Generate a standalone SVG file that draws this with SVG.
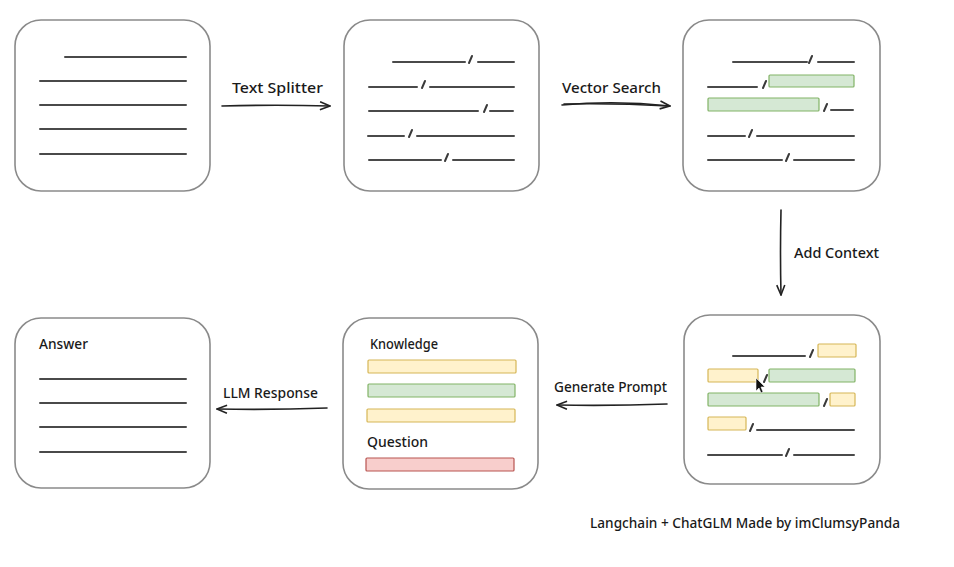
<svg xmlns="http://www.w3.org/2000/svg" width="954" height="567" viewBox="0 0 954 567">
<style>
.box{fill:#fff;stroke:#8a8a8a;stroke-width:1.6}
.ln{stroke:#4a4a4a;stroke-width:2;stroke-linecap:round;fill:none}
.sl{stroke:#3a3a3a;stroke-width:2;stroke-linecap:round;fill:none}
.g{fill:#d5e8d4;stroke:#82b366;stroke-width:1.2}
.y{fill:#fff2cc;stroke:#d6b656;stroke-width:1.2}
.r{fill:#f8cecc;stroke:#b85450;stroke-width:1.2}
.t{font-family:"Noto Sans","DejaVu Sans",sans-serif;font-size:14.5px;font-weight:500;fill:#1a1a1a}
.c{stroke:#222;stroke-width:1.6;fill:none;stroke-linecap:round}
</style>
<defs>
<marker id="ah" viewBox="0 0 12 10" refX="11" refY="5" markerWidth="12" markerHeight="10" markerUnits="userSpaceOnUse" orient="auto">
<path d="M1,1 L11,5 L1,9" fill="none" stroke="#222" stroke-width="1.6" stroke-linejoin="round"/>
</marker>
</defs>
<rect width="954" height="567" fill="#fff"/>

<g id="doc">
<rect class="box" x="15" y="20" width="195" height="171" rx="26"/>
<path class="ln" d="M65,57H186M40,81H186M40,105H186M40,129H186M40,154H186"/>
</g>

<g id="chunks">
<rect class="box" x="344" y="20" width="195" height="171" rx="26"/>
<path class="ln" d="M393,62H465M478,62H514M369,87H417M430,87H514M369,111H478M490,111H513M368,136H404M417,136H514M369,160H441M453,160H514"/>
<path class="sl" d="M469,63L472,56M422,88L425,81M484,112L487,105M409,137L412,130M445,161L448,154"/>
</g>

<g id="search">
<rect class="box" x="683" y="20" width="197" height="171" rx="26"/>
<path class="ln" d="M733,62H807M818,62H854M708,87H757M831,110H853M708,136H745M757,136H854M708,160H782M794,160H854"/>
<path class="sl" d="M809,63L812,56M763,88L766,81M824,111L827,104M749,137L752,130M786,161L789,154"/>
<rect class="g" x="769" y="75" width="85" height="12" rx="1"/>
<rect class="g" x="708" y="98" width="111" height="13" rx="1"/>
</g>

<g id="context">
<rect class="box" x="684" y="315" width="196" height="169" rx="26"/>
<path class="ln" d="M733,356H805M757,430H854M708,455H782M794,455H854"/>
<path class="sl" d="M810,357L813,350M764,382L767,375M824,406L827,399M750,431L753,424M786,456L789,449"/>
<rect class="y" x="818" y="344" width="38" height="13" rx="1"/>
<rect class="y" x="708" y="369" width="50" height="13" rx="1"/>
<rect class="g" x="769" y="369" width="86" height="13" rx="1"/>
<rect class="g" x="708" y="393" width="111" height="13" rx="1"/>
<rect class="y" x="830" y="393" width="25" height="13" rx="1"/>
<rect class="y" x="708" y="417" width="38" height="13" rx="1"/>
<path d="M756,378L756,391L759,388L761,393L763,392L761,387L765,387Z" fill="#111" stroke="#fff" stroke-width="0.6"/>
</g>

<g id="prompt">
<rect class="box" x="343" y="318" width="195" height="171" rx="26"/>
<text class="t" x="370" y="349" textLength="68" lengthAdjust="spacingAndGlyphs">Knowledge</text>
<rect class="y" x="368" y="360" width="148" height="13" rx="1"/>
<rect class="g" x="368" y="384" width="147" height="13" rx="1"/>
<rect class="y" x="367" y="409" width="148" height="13" rx="1"/>
<text class="t" x="367" y="447" textLength="61" lengthAdjust="spacingAndGlyphs">Question</text>
<rect class="r" x="366" y="458" width="148" height="13" rx="1"/>
</g>

<g id="answer">
<rect class="box" x="15" y="318" width="195" height="170" rx="26"/>
<text class="t" x="39" y="349" textLength="49" lengthAdjust="spacingAndGlyphs">Answer</text>
<path class="ln" d="M40,379H186M40,403H186M40,427H186M40,452H186"/>
</g>

<g id="connectors">
<path class="c" d="M222,106Q276,104.5 330,106" marker-end="url(#ah)"/>
<text class="t" x="232" y="93" textLength="91" lengthAdjust="spacingAndGlyphs">Text Splitter</text>
<path class="c" d="M562,105Q616,100 670,106" marker-end="url(#ah)"/>
<path class="c" d="M564,104Q616,103 668,106" stroke-width="1"/>
<text class="t" x="562" y="93" textLength="99" lengthAdjust="spacingAndGlyphs">Vector Search</text>
<path class="c" d="M781,210Q780,252 781,295" marker-end="url(#ah)"/>
<text class="t" x="794" y="258" textLength="85" lengthAdjust="spacingAndGlyphs">Add Context</text>
<path class="c" d="M667,404Q612,406 557,405" marker-end="url(#ah)"/>
<text class="t" x="554" y="392" textLength="113" lengthAdjust="spacingAndGlyphs">Generate Prompt</text>
<path class="c" d="M327,408Q272,410 217,409" marker-end="url(#ah)"/>
<text class="t" x="223" y="398" textLength="95" lengthAdjust="spacingAndGlyphs">LLM Response</text>
</g>

<text class="t" x="590" y="528" textLength="310" lengthAdjust="spacingAndGlyphs">Langchain + ChatGLM Made by imClumsyPanda</text>
</svg>
